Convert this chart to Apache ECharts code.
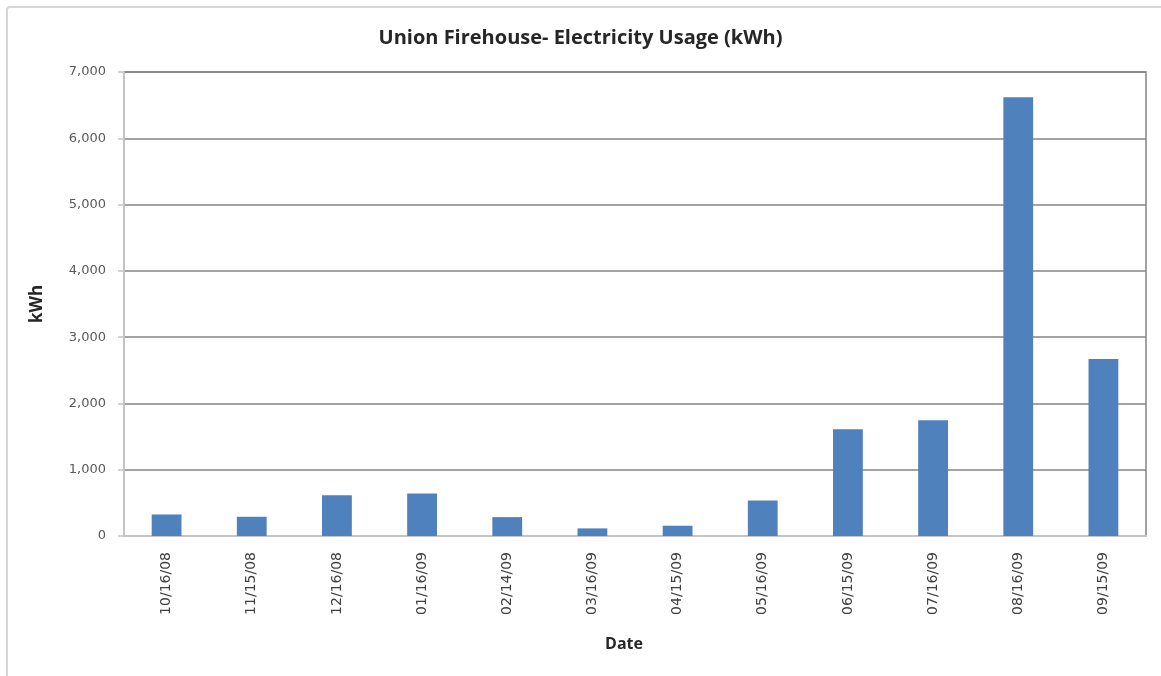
<!DOCTYPE html>
<html>
<head>
<meta charset="utf-8">
<script src="https://cdn.jsdelivr.net/npm/echarts@6/dist/echarts.min.js"></script>
<style>
html,body{margin:0;padding:0;background:#fff;}
#chart{width:1161px;height:676px;}
</style>
</head>
<body>
<div id="chart"></div>
<script>
var categories = ['10/16/08','11/15/08','12/16/08','01/16/09','02/14/09','03/16/09','04/15/09','05/16/09','06/15/09','07/16/09','08/16/09','09/15/09'];
var usage = [325, 290, 615, 640, 285, 115, 155, 535, 1610, 1745, 6620, 2672];
var yTicks = [0, 1000, 2000, 3000, 4000, 5000, 6000, 7000];

var chart = echarts.init(document.getElementById('chart'));
chart.setOption({
  backgroundColor: '#ffffff',
  animation: false,
  title: {
    text: 'Union Firehouse- Electricity Usage (kWh)',
    left: 'center',
    top: 23,
    textStyle: { fontFamily: 'Open Sans', fontSize: 20, fontWeight: 'bold', color: '#262626' }
  },
  graphic: [{
    type: 'rect',
    shape: { x: 7, y: 7, width: 1200, height: 700, r: 3 },
    style: { fill: 'none', stroke: '#d6d6d6', lineWidth: 2 },
    silent: true
  }],
  grid: {
    left: 124, right: 15, top: 72, bottom: 140,
    show: true, borderColor: '#858585', borderWidth: 1.5
  },
  xAxis: {
    type: 'category',
    data: categories,
    name: 'Date',
    nameLocation: 'middle',
    nameGap: 100,
    nameTextStyle: { fontFamily: 'Open Sans', fontSize: 16, fontWeight: 'bold', color: '#262626', padding: [0, 22, 0, 0] },
    axisLine: { lineStyle: { color: '#c4c4c4', width: 2 } },
    axisTick: { show: false },
    axisLabel: { rotate: 90, margin: 16, fontFamily: 'DejaVu Sans', fontSize: 14, color: '#404040', interval: 0 }
  },
  yAxis: {
    type: 'value',
    min: 0, max: 7000, interval: 1000,
    name: 'kWh',
    nameLocation: 'middle',
    nameGap: 78,
    nameRotate: 90,
    nameTextStyle: { fontFamily: 'Open Sans', fontSize: 17, fontWeight: 'bold', color: '#262626' },
    axisLine: { show: true, lineStyle: { color: '#c4c4c4', width: 2 } },
    axisTick: { show: true, length: 6, lineStyle: { color: '#c4c4c4', width: 1.5 } },
    splitLine: { lineStyle: { color: '#858585', width: 1.5 } },
    axisLabel: {
      margin: 18, fontFamily: 'DejaVu Sans', fontSize: 13, color: '#595959',
      formatter: function (v) { return yTicks.indexOf(v) >= 0 ? v.toLocaleString('en-US') : ''; }
    }
  },
  series: [{
    type: 'bar',
    data: usage,
    barWidth: '35%',
    itemStyle: { color: '#4F81BD' }
  }]
});
</script>
</body>
</html>
